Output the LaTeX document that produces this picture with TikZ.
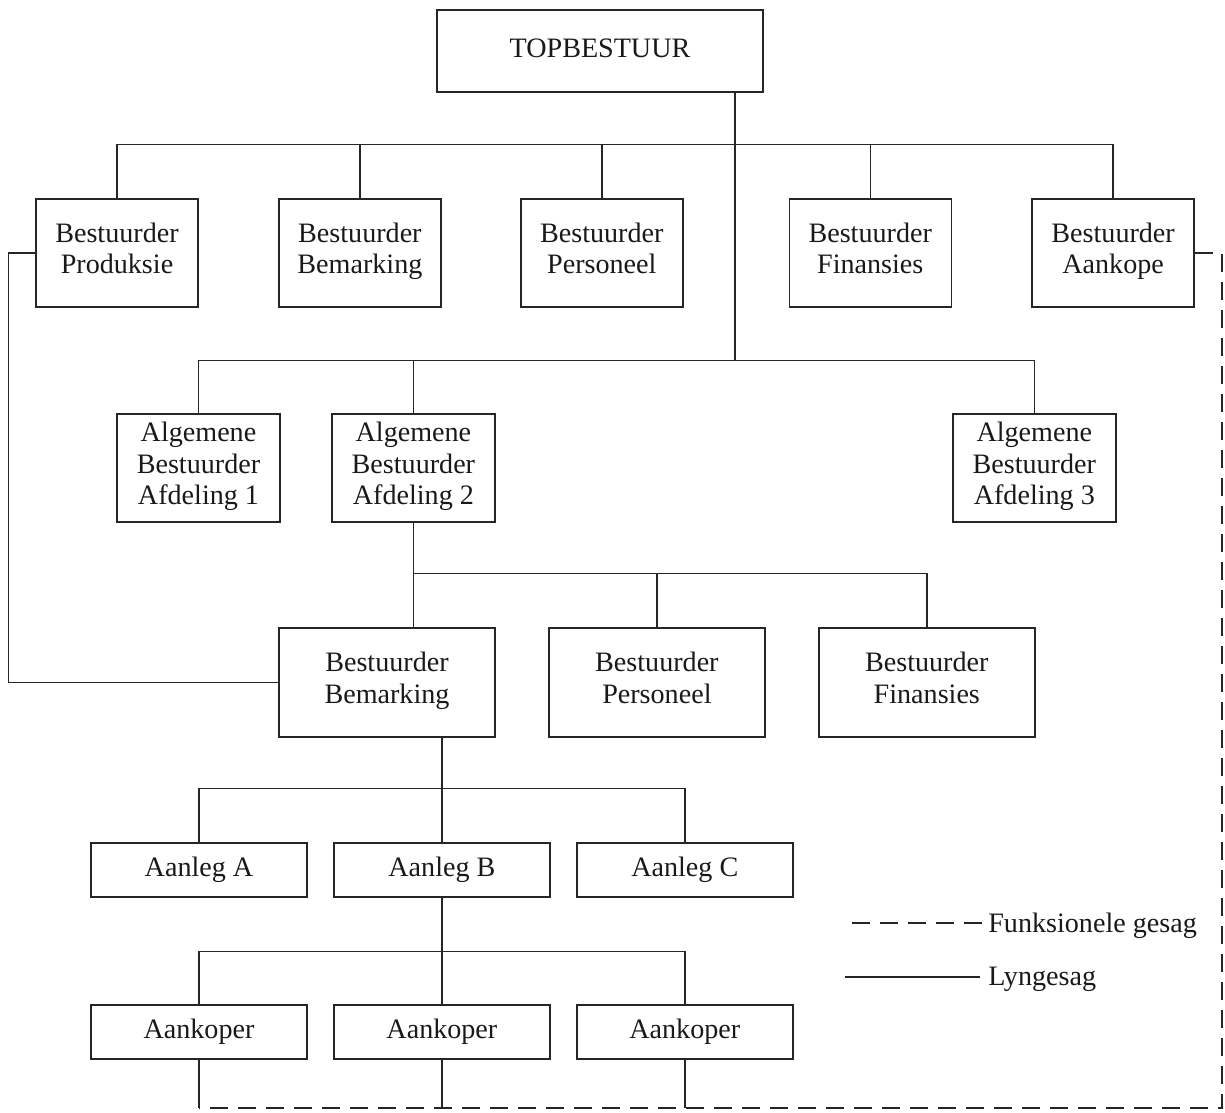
\documentclass[tikz,border=0pt]{standalone}
\usepackage{fontspec}
\setmainfont{Liberation Serif}
\usetikzlibrary{arrows, positioning}

\begin{document}
\begin{tikzpicture}
	\tikzstyle{BossNode} = [rectangle, minimum width=6.52cm, minimum height=1.64cm, text centered, align=center, draw=black!85, line width=0.8pt, text=black!90, font=\fontsize{16}{18}\selectfont, execute at begin node=\strut, execute at end node=\strut]
	\tikzstyle{ManagerNode} = [rectangle, minimum width=3.24cm, minimum height=2.16cm, text centered, align=center, draw=black!85, line width=0.8pt, text=black!90, font=\fontsize{16}{18}\selectfont, execute at begin node=\strut, execute at end node=\strut]
	\tikzstyle{DivisionNode} = [rectangle, minimum width=3.26cm, minimum height=2.16cm, text centered, align=center, draw=black!85, line width=0.8pt, text=black!90, font=\fontsize{16}{18}\selectfont, execute at begin node=\strut, execute at end node=\strut]
	\tikzstyle{DeptNode} = [rectangle, minimum width=4.32cm, minimum height=2.18cm, text centered, align=center, draw=black!85, line width=0.8pt, text=black!90, font=\fontsize{16}{18}\selectfont, execute at begin node=\strut, execute at end node=\strut]
	\tikzstyle{PlantNode} = [rectangle, minimum width=4.32cm, minimum height=1.08cm, text centered, draw=black!85, line width=0.8pt, text=black!90, font=\fontsize{16}{18}\selectfont, execute at begin node=\strut]
	\tikzstyle{LegendText} = [inner sep=0pt, text=black!90, font=\fontsize{16}{18}\selectfont]
	\tikzstyle{line} = [draw=black!85, line width=0.8pt]
	\tikzstyle{functional} = [line, dash pattern=on 0.36cm off 0.2cm]

	\useasboundingbox (0,0) rectangle (24.5,-22.24);

	\node (topManagement) [BossNode] at (12,-1.02) {TOPBESTUUR};

	\node (production) [ManagerNode] at (2.34,-5.06) {Bestuurder\\Produksie};
	\node (marketing) [ManagerNode, right = 1.59cm of production] {Bestuurder\\Bemarking};
	\node (personnel) [ManagerNode, right = 1.57cm of marketing] {Bestuurder\\Personeel};
	\node (finance) [ManagerNode, right = 2.1cm of personnel] {Bestuurder\\Finansies};
	\node (purchasing) [ManagerNode, right = 1.59cm of finance] {Bestuurder\\Aankope};

	\node (division1) [DivisionNode] at (3.97,-9.36) {Algemene\\Bestuurder\\Afdeling 1};
	\node (division2) [DivisionNode, right = 1.01cm of division1] {Algemene\\Bestuurder\\Afdeling 2};
	\node (division3) [DivisionNode, right = 9.13cm of division2] {Algemene\\Bestuurder\\Afdeling 3};

	\node (marketing2) [DeptNode] at (7.74,-13.65) {Bestuurder\\Bemarking};
	\node (personnel2) [DeptNode, right = 1.05cm of marketing2] {Bestuurder\\Personeel};
	\node (finance2) [DeptNode, right = 1.05cm of personnel2] {Bestuurder\\Finansies};

	\node (plantA) [PlantNode] at (3.98,-17.4) {Aanleg A};
	\node (plantB) [PlantNode, right = 0.51cm of plantA] {Aanleg B};
	\node (plantC) [PlantNode, right = 0.51cm of plantB] {Aanleg C};

	\node (buyer1) [PlantNode, below = 2.13cm of plantA] {Aankoper};
	\node (buyer2) [PlantNode, below = 2.13cm of plantB] {Aankoper};
	\node (buyer3) [PlantNode, below = 2.13cm of plantC] {Aankoper};

	\node (legendFunctional) [LegendText, anchor=base west] at (19.76,-18.64) {Funksionele gesag};
	\node (legendLine) [LegendText, anchor=base west] at (19.76,-19.7) {Lyngesag};

	\coordinate (trunk) at (14.7,-7.22);
	\coordinate (dashCorner) at (24.44,-22.16);

	% lyngesag
	\draw[line] (topManagement.south -| trunk) -- (trunk);
	\draw[line] (production.north) -- ++(0,1.08) -| (purchasing.north);
	\draw[line] (marketing.north) -- ++(0,1.08);
	\draw[line] (personnel.north) -- ++(0,1.08);
	\draw[line] (finance.north) -- ++(0,1.08);
	\draw[line] (division1.north) -- ++(0,1.06) -| (division3.north);
	\draw[line] (division2.north) -- ++(0,1.06);
	\draw[line] (finance2.north) -- ++(0,1.08) -| (division2.south);
	\draw[line] (division2.south) -- (division2.south |- marketing2.north);
	\draw[line] (personnel2.north) -- ++(0,1.08);
	\draw[line] (production.west) -- ++(-0.53,0) |- (marketing2.west);
	\draw[line] (marketing2.south -| plantB.north) -- (plantB.north);
	\draw[line] (plantA.north) -- ++(0,1.08) -| (plantC.north);
	\draw[line] (plantB.south) -- (buyer2.north);
	\draw[line] (buyer1.north) -- ++(0,1.06) -| (buyer3.north);
	\draw[line] (buyer1.south) -- (buyer1.south |- dashCorner);
	\draw[line] (buyer2.south) -- (buyer2.south |- dashCorner);
	\draw[line] (buyer3.south) -- (buyer3.south |- dashCorner);

	% funksionele gesag
	\draw[functional] (purchasing.east) -| (dashCorner) -- (buyer1.south |- dashCorner);

	% legend
	\draw[functional] (legendFunctional.base west) ++(-0.12,0.18) -- ++(-2.74,0);
	\draw[line] (legendLine.base west) ++(-0.16,0.16) -- ++(-2.7,0);
\end{tikzpicture}
\end{document}
